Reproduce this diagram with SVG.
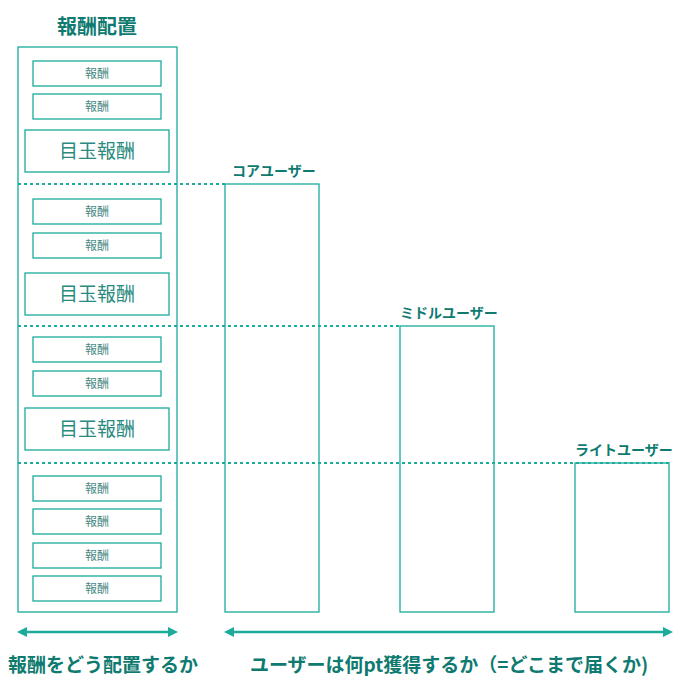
<svg xmlns="http://www.w3.org/2000/svg" width="693" height="693" viewBox="0 0 693 693">
<style>
.b{fill:#fff;stroke:#1aab9b;stroke-width:1.3}
.s{font-family:"Noto Sans CJK JP",sans-serif;font-size:12px;fill:#4a8a84;text-anchor:middle}
.g{font-family:"Noto Sans CJK JP",sans-serif;font-size:19px;fill:#2a8a80;text-anchor:middle}
.h{font-family:"Noto Sans CJK JP",sans-serif;font-weight:bold;fill:#0e7a70}
.d{stroke:#1aab9b;stroke-width:2;stroke-dasharray:3,3;fill:none}
.a{stroke:#1aab9b;stroke-width:2.5;fill:none;marker-start:url(#m);marker-end:url(#m)}
</style>
<defs><marker id="m" viewBox="0 0 10 10" refX="5" refY="5" markerWidth="4" markerHeight="4" orient="auto-start-reverse"><path d="M0,0L10,5L0,10z" fill="#1aab9b"/></marker></defs>
<rect width="693" height="693" fill="#fff"/>
<text class="h" x="97" y="34" font-size="20" text-anchor="middle">報酬配置</text>
<g id="panel"><rect class="b" x="18" y="47" width="159" height="565"/></g>
<g id="rewards">
<rect class="b" x="33" y="61" width="128" height="25"/><text class="s" x="97" y="78">報酬</text>
<rect class="b" x="33" y="94" width="128" height="25"/><text class="s" x="97" y="111">報酬</text>
<rect class="b" x="25" y="130" width="144" height="42"/><text class="g" x="97" y="158">目玉報酬</text>
<rect class="b" x="33" y="199" width="128" height="25"/><text class="s" x="97" y="216">報酬</text>
<rect class="b" x="33" y="233" width="128" height="25"/><text class="s" x="97" y="250">報酬</text>
<rect class="b" x="25" y="273" width="144" height="42"/><text class="g" x="97" y="301">目玉報酬</text>
<rect class="b" x="33" y="337" width="128" height="25"/><text class="s" x="97" y="354">報酬</text>
<rect class="b" x="33" y="371" width="128" height="25"/><text class="s" x="97" y="388">報酬</text>
<rect class="b" x="25" y="408" width="144" height="42"/><text class="g" x="97" y="436">目玉報酬</text>
<rect class="b" x="33" y="476" width="128" height="25"/><text class="s" x="97" y="493">報酬</text>
<rect class="b" x="33" y="509" width="128" height="25"/><text class="s" x="97" y="526">報酬</text>
<rect class="b" x="33" y="543" width="128" height="25"/><text class="s" x="97" y="560">報酬</text>
<rect class="b" x="33" y="576" width="128" height="25"/><text class="s" x="97" y="593">報酬</text>
</g>
<g id="core"><rect class="b" x="225" y="184" width="94" height="428"/><text class="h" x="232" y="176" font-size="14">コアユーザー</text></g>
<g id="middle"><rect class="b" x="400" y="326" width="94" height="286"/><text class="h" x="400" y="318" font-size="14">ミドルユーザー</text></g>
<g id="light"><rect class="b" x="575" y="463" width="94" height="149"/><text class="h" x="575" y="455" font-size="14">ライトユーザー</text></g>
<g id="connectors">
<path class="d" d="M18,184H225M18,326H400M18,463H669"/>
<path class="a" d="M22,632H173"/>
<path class="a" d="M229,632H668"/>
</g>
<text class="h" x="8" y="672" font-size="19">報酬をどう配置するか</text>
<text class="h" x="250" y="672" font-size="19">ユーザーは何pt獲得するか（=どこまで届くか)</text>
</svg>
